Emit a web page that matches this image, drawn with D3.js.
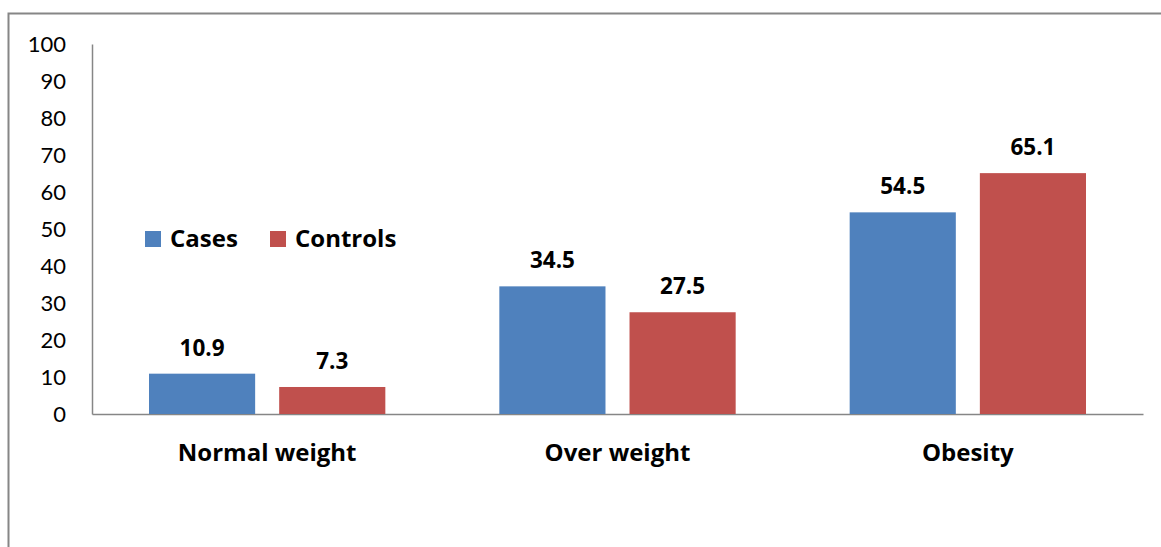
<!DOCTYPE html>
<html><head><meta charset="utf-8">
<script src="https://cdn.jsdelivr.net/npm/d3@7"></script>
<style>body{margin:0;background:#fff}svg{display:block}</style>
</head><body><svg id="c" width="1161" height="547"></svg>
<script>
const categories = ["Normal weight", "Over weight", "Obesity"];
const seriesNames = ["Cases", "Controls"];
const cases = [10.9, 34.5, 54.5];
const controls = [7.3, 27.5, 65.1];
const yTicks = [0,10,20,30,40,50,60,70,80,90,100];
const colors = ["#4F81BD", "#C0504D"];

const svg = d3.select("#c");
const font = "Lato, 'Open Sans', sans-serif";
const bold = "'Open Sans', Lato, sans-serif";
// outer frame
svg.append("path").attr("d","M8.5,547 L8.5,13.5 L1161,13.5").attr("fill","none").attr("stroke","#868686").attr("stroke-width",2);

const x0 = d3.scaleBand().domain(categories).range([92,1143]).paddingInner(0).paddingOuter(0);
const y = d3.scaleLinear().domain([0,100]).range([414,44]);
const x1 = d3.scaleBand().domain(seriesNames).range([57, x0.bandwidth()-57]).paddingInner(24/130);

// axes
const yAx = svg.append("g").attr("transform","translate(92,0)").call(d3.axisLeft(y).tickValues(yTicks).tickSize(0).tickPadding(26));
yAx.select(".domain").attr("stroke","#868686").attr("stroke-width",1.5);
yAx.selectAll("text").attr("font-family",font).attr("font-size",22).attr("fill","#000");

const xAx = svg.append("g").attr("transform","translate(0,414)").call(d3.axisBottom(x0).tickSize(0).tickPadding(0));
xAx.select(".domain").attr("stroke","#868686").attr("stroke-width",1.5);
xAx.selectAll("text").attr("dy",null).attr("y",47).attr("font-family",bold).attr("font-size",24).attr("font-weight","bold").attr("fill","#000");

const data = categories.map((c,i)=>({cat:c, vals:[{s:"Cases",v:cases[i]},{s:"Controls",v:controls[i]}]}));
const g = svg.selectAll(".grp").data(data).enter().append("g").attr("transform",d=>`translate(${x0(d.cat)},0)`);
g.selectAll("rect").data(d=>d.vals).enter().append("rect")
  .attr("x",d=>x1(d.s)).attr("width",x1.bandwidth())
  .attr("y",d=>y(d.v)).attr("height",d=>y(0)-y(d.v))
  .attr("fill",(d,i)=>colors[i]);
g.selectAll("text.v").data(d=>d.vals).enter().append("text").attr("class","v")
  .attr("x",d=>x1(d.s)+x1.bandwidth()/2).attr("y",d=>y(d.v)-18)
  .attr("text-anchor","middle").attr("font-family",bold).attr("font-size",22.5).attr("font-weight","bold")
  .text(d=>d.v.toFixed(1));

// legend
const lg = svg.append("g");
const lx = [145, 270];
seriesNames.forEach((s,i)=>{
  lg.append("rect").attr("x",lx[i]).attr("y",231).attr("width",16).attr("height",16).attr("fill",colors[i]);
  lg.append("text").attr("x",lx[i]+25).attr("y",247).attr("font-family",bold).attr("font-size",24).attr("font-weight","bold").text(s);
});
</script></body></html>
